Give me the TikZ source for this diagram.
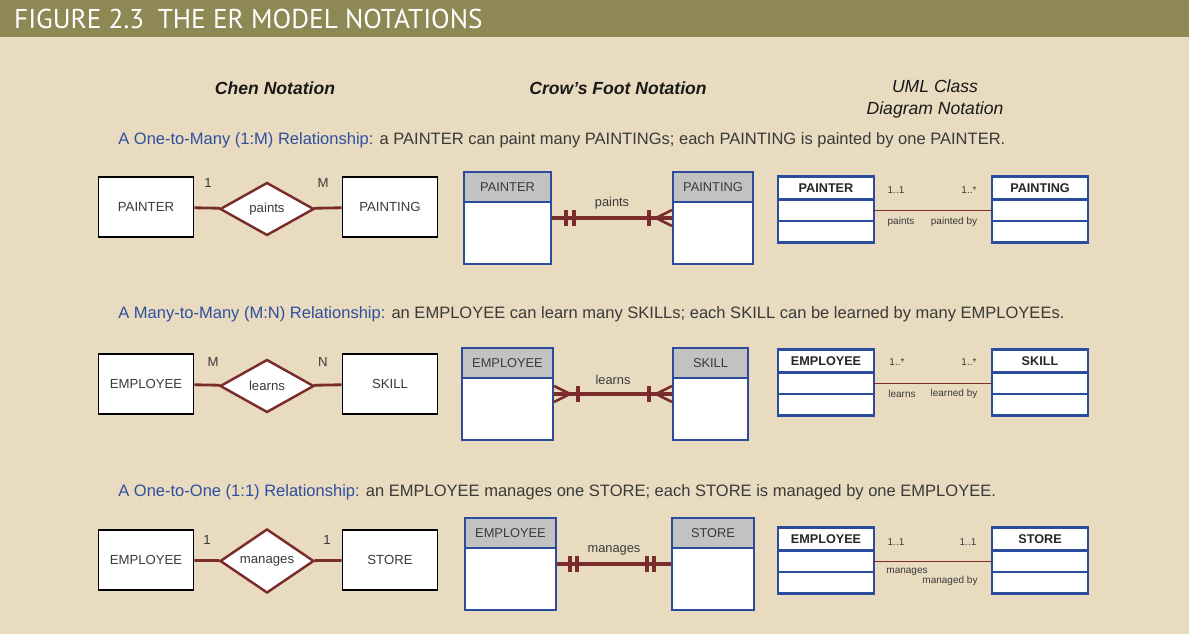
\documentclass[tikz,border=0pt]{standalone}
\usepackage{fontspec}
\setmainfont{Liberation Sans}
\newfontfamily\titlefont{PT Sans}
\usetikzlibrary{shapes.geometric,positioning}

\definecolor{bgbeige}{HTML}{E8DBBF}
\definecolor{barolive}{HTML}{8E8855}
\definecolor{relred}{HTML}{7A2C2C}
\definecolor{entblue}{HTML}{2B4C9C}
\definecolor{capblue}{HTML}{2F4F9F}
\definecolor{txtgray}{HTML}{3A3A3A}
\definecolor{headgray}{HTML}{C2C2C2}

\tikzset{
    chenbox/.style={draw=black, line width=1.1pt, fill=white, minimum width=1.9cm, minimum height=1.2cm,
        font=\fontsize{7.5}{9}\selectfont, text=txtgray},
    chenrel/.style={diamond, draw=relred, line width=1.4pt, fill=white, minimum width=1.88cm,
        minimum height=1.06cm, inner sep=0pt, font=\fontsize{7.5}{9}\selectfont, text=txtgray},
    card/.style={font=\fontsize{7.5}{9}\selectfont, text=txtgray},
    relline/.style={draw=relred, line width=1.6pt},
    cfline/.style={draw=relred, line width=1.9pt},
    cfbox/.style={draw=entblue, line width=1.2pt, fill=white, minimum height=1.84cm},
    cfhead/.style={draw=entblue, line width=1.2pt, fill=headgray, minimum height=0.6cm, anchor=north,
        font=\fontsize{7.3}{9}\selectfont, text=txtgray},
    umlhead/.style={draw=entblue, line width=1.4pt, fill=white, minimum width=1.92cm, minimum height=0.46cm,
        outer sep=0pt, font=\fontsize{7.2}{9}\selectfont\bfseries, text=black!85},
    umlpart/.style={draw=entblue, line width=1.4pt, fill=white, minimum width=1.92cm, minimum height=0.43cm,
        outer sep=0pt, below=0pt of #1},
    umlline/.style={draw=relred, line width=0.8pt},
    umllabel/.style={font=\fontsize{5.7}{7}\selectfont, text=txtgray, inner sep=0pt},
    colhead/.style={font=\fontsize{10}{12}\selectfont\itshape, text=black!90, align=center},
    sentence/.style={anchor=west, font=\fontsize{9.4}{11}\selectfont, text=txtgray, inner sep=0pt}
}

\begin{document}
\begin{tikzpicture}[x=0.02cm, y=-0.02cm]
    \useasboundingbox (0,0) rectangle (1200,634);
    \fill[white] (0,0) rectangle (1200,634);
    \fill[bgbeige] (0,0) rectangle (1189,634);
    \fill[barolive] (0,0) rectangle (1189,37);
    \node[anchor=west, text=white, font=\titlefont\fontsize{15.5}{18}\selectfont] (title) at (8,19)
        {FIGURE 2.3\enspace THE ER MODEL NOTATIONS};

    % column heads
    \node[colhead, font=\fontsize{10}{12}\selectfont\bfseries\itshape] (hchen) at (275,88) {Chen Notation};
    \node[colhead, font=\fontsize{10}{12}\selectfont\bfseries\itshape] (hcrow) at (618,88) {Crow’s Foot Notation};
    \node[colhead] (huml) at (935,99) {UML Class\\Diagram Notation};

    % sentences
    \node[sentence] (s1) at (118,140) {\textcolor{capblue}{A One-to-Many (1:M) Relationship:} a PAINTER can paint many PAINTINGs; each PAINTING is painted by one PAINTER.};
    \node[sentence] (s2) at (118,314) {\textcolor{capblue}{A Many-to-Many (M:N) Relationship:} an EMPLOYEE can learn many SKILLs; each SKILL can be learned by many EMPLOYEEs.};
    \node[sentence] (s3) at (118,492) {\textcolor{capblue}{A One-to-One (1:1) Relationship:} an EMPLOYEE manages one STORE; each STORE is managed by one EMPLOYEE.};

    % Chen
    \node[chenbox] (c1a) at (146,207) {PAINTER};
    \node[chenrel] (c1r) at (267,209) {paints};
    \node[chenbox] (c1b) at (390,207) {PAINTING};
    \node[chenbox] (c2a) at (146,384) {EMPLOYEE};
    \node[chenrel] (c2r) at (267,386) {learns};
    \node[chenbox] (c2b) at (390,384) {SKILL};
    \node[chenbox] (c3a) at (146,560) {EMPLOYEE};
    \node[chenrel] (c3r) at (267,561) {manages};
    \node[chenbox] (c3b) at (390,560) {STORE};
    \node[card] at (208,183) {1};
    \node[card] at (323,183) {M};
    \node[card] at (213,362) {M};
    \node[card] at (323,362) {N};
    \node[card] at (207,540) {1};
    \node[card] at (327,540) {1};
    \begin{scope}[every edge/.style={relline}]
        \path [-] (c1a) edge (c1r);
        \path [-] (c1r) edge (c1b);
        \path [-] (c2a) edge (c2r);
        \path [-] (c2r) edge (c2b);
        \path [-] (c3a) edge (c3r);
        \path [-] (c3r) edge (c3b);
    \end{scope}

    % Crow's foot
    \node[cfbox, minimum width=1.74cm] (f1a) at (507.5,218) {};
    \node[cfhead, minimum width=1.74cm] (f1ah) at (f1a.north) {PAINTER};
    \node[cfbox, minimum width=1.6cm] (f1b) at (713,218) {};
    \node[cfhead, minimum width=1.6cm] (f1bh) at (f1b.north) {PAINTING};
    \node[cfbox, minimum width=1.82cm] (f2a) at (507.5,394) {};
    \node[cfhead, minimum width=1.82cm] (f2ah) at (f2a.north) {EMPLOYEE};
    \node[cfbox, minimum width=1.5cm] (f2b) at (710.5,394) {};
    \node[cfhead, minimum width=1.5cm] (f2bh) at (f2b.north) {SKILL};
    \node[cfbox, minimum width=1.82cm] (f3a) at (510.5,564) {};
    \node[cfhead, minimum width=1.82cm] (f3ah) at (f3a.north) {EMPLOYEE};
    \node[cfbox, minimum width=1.64cm] (f3b) at (713,564) {};
    \node[cfhead, minimum width=1.64cm] (f3bh) at (f3b.north) {STORE};
    \begin{scope}[every edge/.style={cfline}, every node/.style={above=1pt, font=\fontsize{7.3}{9}\selectfont, text=txtgray}]
        \path [-] (f1a) edge node {paints} (f1b);
        \path [-] (f2a) edge node {learns} (f2b);
        \path [-] (f3a) edge node {manages} (f3b);
    \end{scope}
    % bars and feet
    \draw[cfline] (f1a.east) ++(14,-8) -- ++(0,16);
    \draw[cfline] (f1a.east) ++(22,-8) -- ++(0,16);
    \draw[cfline] (f1b.west) ++(-23,-8) -- ++(0,16);
    \draw[cfline, line width=1.5pt] (f1b.west) ++(0,-8) -- ++(-16,8) -- ++(16,8);
    \draw[cfline] (f2a.east) ++(24,-8) -- ++(0,16);
    \draw[cfline, line width=1.5pt] (f2a.east) ++(0,-8) -- ++(16,8) -- ++(-16,8);
    \draw[cfline] (f2b.west) ++(-23,-8) -- ++(0,16);
    \draw[cfline, line width=1.5pt] (f2b.west) ++(0,-8) -- ++(-16,8) -- ++(16,8);
    \draw[cfline] (f3a.east) ++(13,-8) -- ++(0,16);
    \draw[cfline] (f3a.east) ++(20,-8) -- ++(0,16);
    \draw[cfline] (f3b.west) ++(-24,-8) -- ++(0,16);
    \draw[cfline] (f3b.west) ++(-17,-8) -- ++(0,16);

    % UML
    \node[umlhead] (u1a) at (826,188) {PAINTER};
    \node[umlpart=u1a] (u1a2) {};
    \node[umlpart=u1a2] (u1a3) {};
    \node[umlhead] (u1b) at (1040,188) {PAINTING};
    \node[umlpart=u1b] (u1b2) {};
    \node[umlpart=u1b2] (u1b3) {};
    \node[umlhead] (u2a) at (826,361) {EMPLOYEE};
    \node[umlpart=u2a] (u2a2) {};
    \node[umlpart=u2a2] (u2a3) {};
    \node[umlhead] (u2b) at (1040,361) {SKILL};
    \node[umlpart=u2b] (u2b2) {};
    \node[umlpart=u2b2] (u2b3) {};
    \node[umlhead] (u3a) at (826,539) {EMPLOYEE};
    \node[umlpart=u3a] (u3a2) {};
    \node[umlpart=u3a2] (u3a3) {};
    \node[umlhead] (u3b) at (1040,539) {STORE};
    \node[umlpart=u3b] (u3b2) {};
    \node[umlpart=u3b2] (u3b3) {};
    \path [umlline] (u1a2) edge (u1b2);
    \path [umlline] (u2a2) edge (u2b2);
    \path [umlline] (u3a2) edge (u3b2);
    \node[umllabel] at (896,190) {1..1};
    \node[umllabel] at (969,190) {1..*};
    \node[umllabel] at (901,222) {paints};
    \node[umllabel] at (954,222) {painted by};
    \node[umllabel] at (897,362) {1..*};
    \node[umllabel] at (969,362) {1..*};
    \node[umllabel] at (902,394) {learns};
    \node[umllabel] at (954,394) {learned by};
    \node[umllabel] at (896,542) {1..1};
    \node[umllabel] at (968,542) {1..1};
    \node[umllabel] at (907,572) {manages};
    \node[umllabel] at (950,581) {managed by};
\end{tikzpicture}
\end{document}
